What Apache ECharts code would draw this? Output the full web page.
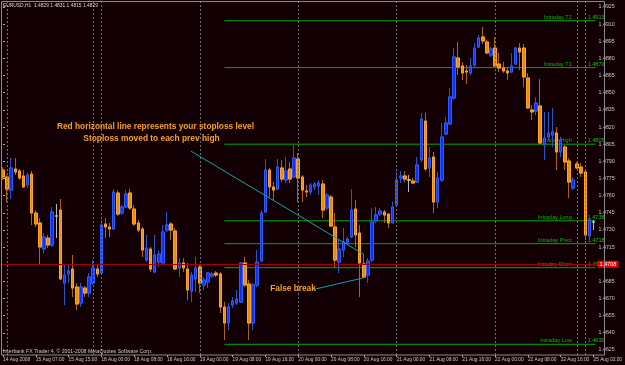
<!DOCTYPE html>
<html><head><meta charset="utf-8">
<script src="https://cdn.jsdelivr.net/npm/echarts@6/dist/echarts.min.js"></script>
<style>html,body{margin:0;padding:0;background:#120004;}#c{width:625px;height:365px;}</style>
</head><body><div id="c"></div>
<script>
// ---- data ----
const tickLabels = ["14 Aug 2008","15 Aug 07:00","15 Aug 15:00","18 Aug 00:00","18 Aug 08:00","18 Aug 16:00",
 "19 Aug 00:00","19 Aug 08:00","19 Aug 16:00","20 Aug 00:00","20 Aug 08:00","20 Aug 16:00","21 Aug 00:00",
 "21 Aug 08:00","21 Aug 16:00","22 Aug 00:00","22 Aug 08:00","22 Aug 16:00","25 Aug 02:00"];
const opens = [1.47824,1.47763,1.47649,1.47833,1.47816,1.47772,1.47693,1.47789,1.47448,1.47361,
1.47133,1.47229,1.47168,1.47422,1.47474,1.46836,1.46915,1.46958,1.46801,1.46661,
1.46792,1.46748,1.46836,1.46958,1.46923,1.47352,1.47326,1.47308,1.47623,1.47448,
1.47501,1.47623,1.47483,1.47361,1.47308,1.47037,1.47133,1.46932,1.47019,1.47011,
1.47299,1.47352,1.47291,1.46967,1.47011,1.46958,1.46766,1.46871,1.46976,1.46818,
1.46845,1.46897,1.46923,1.46915,1.46626,1.46486,1.46643,1.46661,1.46670,1.47011,
1.46827,1.46486,1.46818,1.47028,1.47457,1.47824,1.47676,1.47658,1.47842,1.47737,
1.47833,1.47763,1.47920,1.47763,1.47641,1.47632,1.47676,1.47684,1.47702,1.47492,
1.47588,1.47326,1.47019,1.47124,1.47186,1.47238,1.47483,1.47273,1.47002,1.46906,
1.47037,1.47378,1.47439,1.47457,1.47439,1.47361,1.47518,1.47754,1.47772,1.47737,
1.47728,1.47719,1.47912,1.48253,1.47842,1.47938,1.47544,1.47737,1.48139,1.48227,
1.48454,1.48804,1.48734,1.48690,1.48673,1.48743,1.48900,1.48988,1.48944,1.48830,
1.48891,1.48751,1.48716,1.48690,1.48681,1.48751,1.48891,1.48891,1.48629,1.48349,
1.48340,1.48384,1.48043,1.48113,1.48130,1.48148,1.47982,1.48025,1.47903,1.47667,
1.47877,1.47850,1.47807,1.47247,1.47369];
const closes = [1.47763,1.47658,1.47842,1.47807,1.47754,1.47676,1.47780,1.47448,1.47352,1.47151,
1.47238,1.47168,1.47457,1.47422,1.46871,1.46906,1.46941,1.46792,1.46652,1.46801,
1.46748,1.46888,1.46967,1.46915,1.47343,1.47326,1.47308,1.47632,1.47439,1.47501,
1.47614,1.47492,1.47352,1.47299,1.47124,1.47142,1.46958,1.47081,1.47089,1.47282,
1.47343,1.47299,1.46958,1.47011,1.46967,1.46775,1.46906,1.46967,1.46836,1.46862,
1.46923,1.46915,1.46906,1.46626,1.46486,1.46626,1.46678,1.46696,1.47011,1.46818,
1.46486,1.46818,1.47019,1.47448,1.47824,1.47676,1.47649,1.47850,1.47745,1.47816,
1.47745,1.47929,1.47754,1.47649,1.47632,1.47693,1.47702,1.47710,1.47474,1.47606,
1.47334,1.47037,1.47133,1.47194,1.47221,1.47474,1.47256,1.47011,1.46888,1.47028,
1.47369,1.47431,1.47466,1.47431,1.47361,1.47501,1.47737,1.47772,1.47745,1.47737,
1.47710,1.47868,1.48270,1.47833,1.47929,1.47544,1.47754,1.48113,1.48235,1.48463,
1.48813,1.48725,1.48673,1.48681,1.48734,1.48891,1.48979,1.48953,1.48848,1.48883,
1.48734,1.48716,1.48690,1.48673,1.48734,1.48891,1.48856,1.48638,1.48367,1.48332,
1.48410,1.48060,1.48104,1.48148,1.48157,1.47982,1.48087,1.47894,1.47719,1.47737,
1.47842,1.47798,1.47256,1.47387,1.47369];
const lows = [1.47737,1.47544,1.47571,1.47780,1.47737,1.47667,1.47667,1.47343,1.47326,1.47002,
1.47098,1.47142,1.47151,1.47229,1.46862,1.46643,1.46836,1.46713,1.46600,1.46626,
1.46713,1.46713,1.46818,1.46888,1.46906,1.47229,1.47238,1.47299,1.47422,1.47431,
1.47492,1.47474,1.47334,1.47282,1.47063,1.47019,1.46932,1.46923,1.46976,1.47011,
1.47282,1.47212,1.46950,1.46888,1.46932,1.46687,1.46670,1.46757,1.46748,1.46775,
1.46792,1.46880,1.46888,1.46573,1.46337,1.46425,1.46617,1.46643,1.46661,1.46801,
1.46337,1.46425,1.46801,1.47019,1.47448,1.47588,1.47562,1.47649,1.47719,1.47710,
1.47710,1.47754,1.47544,1.47544,1.47588,1.47606,1.47649,1.47606,1.47404,1.47474,
1.47326,1.46967,1.46923,1.47063,1.47168,1.47229,1.47151,1.46713,1.46880,1.46836,
1.47019,1.47361,1.47422,1.47361,1.47317,1.47361,1.47501,1.47710,1.47719,1.47632,
1.47710,1.47710,1.47894,1.47816,1.47763,1.47448,1.47492,1.47719,1.48130,1.48218,
1.48437,1.48655,1.48611,1.48576,1.48655,1.48716,1.48891,1.48926,1.48839,1.48813,
1.48725,1.48681,1.48673,1.48611,1.48673,1.48743,1.48699,1.48550,1.48358,1.48262,
1.48305,1.48052,1.47912,1.48087,1.48025,1.47824,1.47938,1.47824,1.47579,1.47649,
1.47833,1.47763,1.47212,1.47212,1.47299];
const highs = [1.47850,1.47780,1.47929,1.47929,1.47833,1.47824,1.47798,1.47816,1.47474,1.47404,
1.47273,1.47256,1.47501,1.47527,1.47571,1.46993,1.47002,1.47081,1.46836,1.46836,
1.46810,1.46923,1.47037,1.46993,1.47387,1.47404,1.47361,1.47658,1.47649,1.47518,
1.47649,1.47658,1.47518,1.47387,1.47326,1.47256,1.47151,1.47256,1.47124,1.47343,
1.47457,1.47369,1.47317,1.47054,1.47054,1.47011,1.46932,1.47063,1.46993,1.46888,
1.46932,1.46932,1.46941,1.46932,1.46670,1.46661,1.46713,1.46775,1.47019,1.47063,
1.46862,1.46836,1.47124,1.47474,1.47920,1.47842,1.47719,1.47920,1.47912,1.47938,
1.47894,1.48043,1.47973,1.47780,1.47693,1.47710,1.47719,1.47737,1.47737,1.47623,
1.47606,1.47448,1.47212,1.47317,1.47238,1.47658,1.47562,1.47343,1.47089,1.47054,
1.47492,1.47501,1.47492,1.47474,1.47448,1.47544,1.47807,1.47816,1.47816,1.47780,
1.47754,1.47938,1.48323,1.48323,1.48025,1.47982,1.47807,1.48235,1.48288,1.48541,
1.48891,1.48944,1.48769,1.48743,1.48804,1.48935,1.49005,1.49075,1.48961,1.48900,
1.48988,1.48848,1.48769,1.48725,1.48848,1.48900,1.48935,1.48926,1.48673,1.48393,
1.48463,1.48620,1.48332,1.48332,1.48367,1.48200,1.48113,1.48043,1.47929,1.47763,
1.47894,1.47885,1.47816,1.47404,1.47387];
const yTickValues = [1.4625,1.4640,1.4655,1.4670,1.4685,1.4700,1.4715,1.4730,1.4745,1.4760,1.4775,
 1.4790,1.4805,1.4820,1.4835,1.4850,1.4865,1.4880,1.4895,1.4910,1.4925];
const yLabelValues = yTickValues.filter(v => Math.abs(v - 1.47) > 1e-9);
const levelNames = ["Intraday T2","Intraday T1","Intraday High","Intraday Long","Intraday Pivot","Intraday Short","Intraday Low"];
const levelValues = [1.4913,1.4872,1.4805,1.4738,1.4718,1.4697,1.4630];
const levelStartBar = 54;
const stopLevel = 1.4708;
const separatorBars = [1,22,24,48,72,96,120,140,142];
const trendLines = [[[45.8,1.4799],[87.8,1.4709]],[[75.8,1.4678],[87.8,1.4688]]];
const title = "EURUSD,H1  1.4829 1.4831 1.4815 1.4829";
const copyright = "Interbank FX Trader 4, \u00a9 2001-2008 MetaQuotes Software Corp.";
const notes = ["Red horizontal line represents your stoploss level","Stoploss moved to each prev high","False break"];

// ---- build ----
const categories = opens.map((_, i) => String(i));
const ohlc = opens.map((o, i) => [o, closes[i], lows[i], highs[i]]);
const bodies = opens.map((o, i) => [o, closes[i], Math.min(o, closes[i]), Math.max(o, closes[i])]);
const N = opens.length;
const smallFont = '"Liberation Sans", Arial, sans-serif';
const noteFont = 'bold 9px "Liberation Sans", Arial, sans-serif';

const cyanLine = {color: '#14a0a8', type: 'solid', width: 1, opacity: 1};
const markData = [];
separatorBars.forEach(b => markData.push({xAxis: b, lineStyle: {color: '#707070', type: [2, 2], width: 1}, label: {show: false}}));
markData.push({yAxis: stopLevel, lineStyle: {color: '#a00000', type: 'solid', width: 1},
  label: {show: true, position: 'end', distance: 2, align: 'left', formatter: stopLevel.toFixed(4), color: '#ffffff',
    backgroundColor: '#ee0000', padding: [1, 2, 0, 2], fontSize: 5.5, fontFamily: smallFont}});
trendLines.forEach(t => markData.push([
  {coord: t[0], lineStyle: cyanLine, label: {show: false}},
  {coord: t[1], lineStyle: cyanLine}
]));

const levelSeries = levelNames.map((n, i) => ({
  type: 'line', name: n, xAxisIndex: 1, yAxisIndex: 0, z: 2, silent: true,
  symbol: 'none', showSymbol: false,
  data: [[levelStartBar, levelValues[i]], [N - 0.5, levelValues[i]]],
  lineStyle: {color: '#00a800', width: 1, type: 'solid'},
  itemStyle: {color: '#00a800'},
  endLabel: {show: true, distance: 0, offset: [9, -0.5], align: 'right', verticalAlign: 'bottom',
    formatter: '{n|' + n + '}{p|' + levelValues[i].toFixed(4) + '}',
    rich: {n: {color: '#00b400', fontSize: 5.5, fontFamily: smallFont},
           p: {color: '#00c800', fontSize: 5.5, fontFamily: smallFont, padding: [0, 0, 0, 16]}}}
}));

const noteStyle = (txt) => ({text: txt, fill: '#f5a030', font: noteFont, align: 'center', verticalAlign: 'middle'});

const chart = echarts.init(document.getElementById('c'), null, {renderer: 'canvas'});
chart.setOption({
  backgroundColor: '#120004',
  animation: false,
  grid: {left: 0, right: 21, top: 2, bottom: 10, containLabel: false},
  xAxis: [
    {type: 'category', data: categories, boundaryGap: true,
     axisLine: {show: false},
     axisTick: {show: true, alignWithLabel: true, length: 2, interval: (i) => i % 8 === 0, lineStyle: {color: '#b0b0b0'}},
     axisLabel: {interval: (i) => i % 8 === 0, formatter: (v, i) => tickLabels[i / 8] || '', align: 'left',
       fontSize: 4.8, fontFamily: smallFont, color: '#c8c8c8', margin: 2},
     splitLine: {show: false}},
    {type: 'value', min: -0.5, max: N - 0.5, show: false}
  ],
  yAxis: {type: 'value', position: 'right', min: 1.462063, max: 1.492937, scale: true,
    axisLine: {show: false}, splitLine: {show: false},
    axisTick: {show: true, length: 2, customValues: yTickValues, lineStyle: {color: '#b0b0b0'}},
    axisLabel: {customValues: yLabelValues, formatter: v => v.toFixed(4), fontSize: 5.3, fontFamily: smallFont,
      color: '#c8c8c8', margin: 3}},
  graphic: [
    {type: 'rect', shape: {x: 1.5, y: 1.5, width: 603, height: 353.5}, style: {fill: null, stroke: '#8a8a8a', lineWidth: 1}, silent: true, z: 100},
    {type: 'text', x: 3, y: 3, style: {text: title, fill: '#d8d8d8', font: '4.9px ' + smallFont, verticalAlign: 'top'}, z: 100},
    {type: 'text', x: 3, y: 352, style: {text: copyright, fill: '#c8c8c8', font: '5.2px ' + smallFont, verticalAlign: 'middle'}, z: 100},
    {type: 'text', x: 155.5, y: 127, scaleX: 0.925, style: noteStyle(notes[0]), z: 100},
    {type: 'text', x: 151.5, y: 139, scaleX: 0.93, style: noteStyle(notes[1]), z: 100},
    {type: 'text', x: 293, y: 289, scaleX: 0.92, style: noteStyle(notes[2]), z: 100}
  ],
  series: [
    {type: 'line', xAxisIndex: 1, yAxisIndex: 0, data: [], z: 1, silent: true,
     markLine: {silent: true, symbol: ['none', 'none'], animation: false, data: markData}},
    ...levelSeries,
    {type: 'candlestick', name: 'wicks', xAxisIndex: 0, yAxisIndex: 0, data: ohlc, barWidth: 3, z: 3,
     itemStyle: {color: '#1a40d0', color0: '#b06a10', borderColor: '#2a58c0', borderColor0: '#a8680e',
       borderColorDoji: '#b8b8b8', borderWidth: 1}},
    {type: 'candlestick', name: 'bodies', xAxisIndex: 0, yAxisIndex: 0, data: bodies, barWidth: 3, z: 4,
     itemStyle: {color: '#0c30ff', color0: '#e88c10', borderColor: '#2e5cff', borderColor0: '#ffa424',
       borderColorDoji: '#c0c0c0', borderWidth: 1}}
  ]
});
</script></body></html>
